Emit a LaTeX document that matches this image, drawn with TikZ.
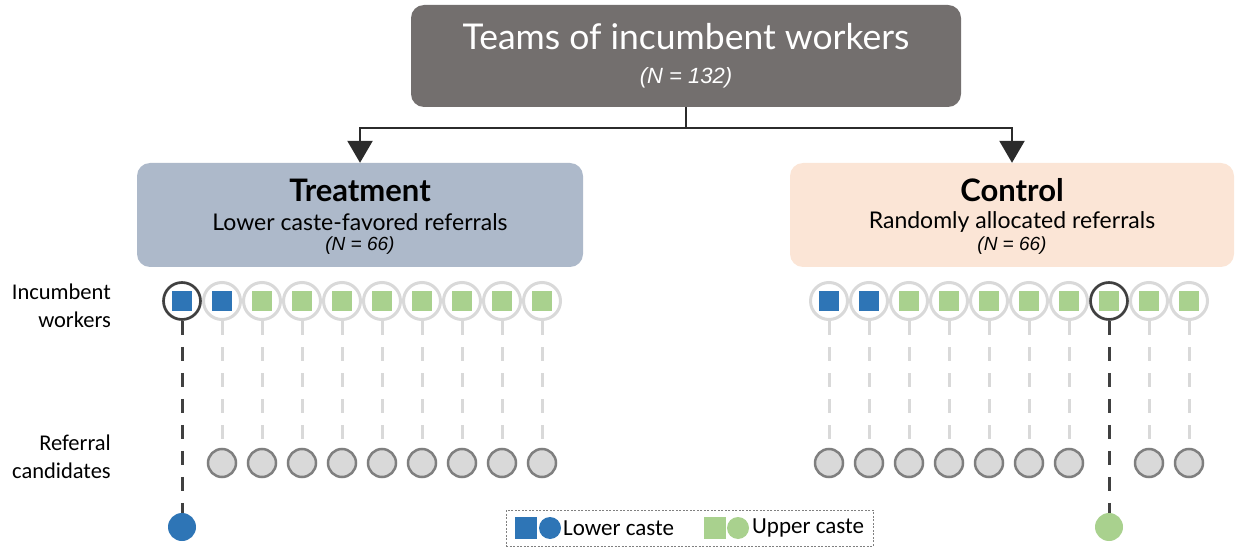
\documentclass[tikz,border=0pt]{standalone}
\usepackage{fontspec}
\setmainfont{Lato}
\newfontfamily\carl{Carlito}
\newfontfamily\arialf{Liberation Sans}
\usetikzlibrary{arrows.meta}
\definecolor{topgray}{HTML}{736F6E}
\definecolor{treatfill}{HTML}{ADB9CA}
\definecolor{ctrlfill}{HTML}{FBE5D6}
\definecolor{lowblue}{HTML}{2E75B6}
\definecolor{upgreen}{HTML}{A9D18E}
\definecolor{ringgray}{HTML}{D9D9D9}
\definecolor{refstroke}{HTML}{7F7F7F}
\definecolor{darkline}{HTML}{404040}
\definecolor{connc}{HTML}{2B2B2B}
\tikzset{
  bigbox/.style={rounded corners=13pt, draw=none, inner sep=0pt},
  conn/.style={draw=connc, line width=2.4pt},
  incirc/.style={circle, draw=ringgray, line width=3pt, minimum size=37pt, inner sep=0pt},
  selcirc/.style={circle, draw=darkline, line width=2.6pt, minimum size=37pt, inner sep=0pt},
  sq/.style={rectangle, minimum size=20pt, inner sep=0pt, draw=none},
  refcirc/.style={circle, draw=refstroke, fill=ringgray, line width=2.5pt, minimum size=28pt, inner sep=0pt},
  ghost/.style={draw=ringgray, line width=3pt, dash pattern=on 14pt off 12pt},
  chosen/.style={draw=darkline, line width=3pt, dash pattern=on 14pt off 12pt},
  pickcirc/.style={circle, minimum size=28pt, inner sep=0pt, draw=none},
  rowlabel/.style={align=right, anchor=east, font=\carl\fontsize{22.5}{28}\selectfont, inner sep=0pt},
  legtext/.style={anchor=west, font=\carl\fontsize{23}{26}\selectfont, inner sep=0pt},
  boxtitle/.style={font=\bfseries\fontsize{31}{36}\selectfont, inner sep=0pt},
  boxsub/.style={font=\fontsize{23}{28}\selectfont, inner sep=0pt},
  boxn/.style={font=\arialf\itshape\fontsize{19}{22}\selectfont, inner sep=0pt},
}
\begin{document}
\begin{tikzpicture}[x=1pt,y=-1pt]
\useasboundingbox (0,0) rectangle (1235,548);
% boxes
\node[bigbox, fill=topgray, minimum width=550pt, minimum height=102pt] (top) at (686,56) {};
\node[text=white, font=\fontsize{35.5}{42}\selectfont, inner sep=0pt] (toptitle) at (686,37) {Teams of incumbent workers};
\node[text=white, font=\arialf\itshape\fontsize{22}{26}\selectfont, inner sep=0pt] (topn) at (686,78) {(N = 132)};

\node[bigbox, fill=treatfill, minimum width=446pt, minimum height=104pt] (treat) at (360,215) {};
\node[boxtitle] (treattitle) at (360,190) {Treatment};
\node[boxsub] (treatsub) at (360,222) {Lower caste-favored referrals};
\node[boxn] (treatn) at (360,246) {(N = 66)};

\node[bigbox, fill=ctrlfill, minimum width=444pt, minimum height=104pt] (ctrl) at (1012,215) {};
\node[boxtitle] (ctrltitle) at (1012,190) {Control};
\node[boxsub] (ctrlsub) at (1012,222) {Randomly allocated referrals};
\node[boxn] (ctrln) at (1012,246) {(N = 66)};

% connectors
\coordinate (split) at (686,128);
\draw[conn] (top.south) -- (split);
\draw[conn, -{Triangle[width=25pt,length=22pt]}] (split) -| (treat.north);
\draw[conn, -{Triangle[width=25pt,length=22pt]}] (split) -| (ctrl.north);

% row labels
\node[rowlabel] (lblinc) at (111,306) {Incumbent\\workers};
\node[rowlabel] (lblref) at (111,457) {Referral\\candidates};

% treatment incumbents
\foreach \i in {1,...,10} {
  \pgfmathsetmacro{\xx}{142+40*\i}
  \node[incirc] (tI\i) at (\xx,301) {};
}
\foreach \i in {2,...,10} {
  \pgfmathsetmacro{\xx}{142+40*\i}
  \node[refcirc] (tR\i) at (\xx,463) {};
  \draw[ghost] (tI\i.south) -- (tR\i.north);
}
% control incumbents
\foreach \i in {1,...,10} {
  \pgfmathsetmacro{\xx}{789+40*\i}
  \node[incirc] (cI\i) at (\xx,301) {};
}
\foreach \i in {1,2,3,4,5,6,7,9,10} {
  \pgfmathsetmacro{\xx}{789+40*\i}
  \node[refcirc] (cR\i) at (\xx,463) {};
  \draw[ghost] (cI\i.south) -- (cR\i.north);
}
% highlighted
\node[selcirc] (tSel) at (tI1) {};
\node[selcirc] (cSel) at (cI8) {};
% squares
\foreach \i in {1,2} { \node[sq, fill=lowblue] (tS\i) at (tI\i) {}; }
\foreach \i in {3,...,10} { \node[sq, fill=upgreen] (tS\i) at (tI\i) {}; }
\foreach \i in {1,2} { \node[sq, fill=lowblue] (cS\i) at (cI\i) {}; }
\foreach \i in {3,...,10} { \node[sq, fill=upgreen] (cS\i) at (cI\i) {}; }

% chosen referrals
\node[pickcirc, fill=lowblue] (tPick) at (182,527) {};
\node[pickcirc, fill=upgreen] (cPick) at (1109,527) {};
\draw[chosen] (tSel.south) -- (tPick.north);
\draw[chosen] (cSel.south) -- (cPick.north);

% legend
\node[draw=gray, line width=0.6pt, dash pattern=on 2pt off 1.5pt, minimum width=367pt, minimum height=36pt, inner sep=0pt] (legend) at (689.5,528) {};
\node[sq, fill=lowblue, minimum size=22pt] (legsq1) at (526,528) {};
\node[circle, fill=lowblue, minimum size=22pt, inner sep=0pt] (legci1) at (550,528) {};
\node[legtext] (legt1) at (563,528) {Lower caste};
\node[sq, fill=upgreen, minimum size=22pt] (legsq2) at (715,528) {};
\node[circle, fill=upgreen, minimum size=22pt, inner sep=0pt] (legci2) at (738,528) {};
\node[legtext] (legt2) at (752,528) {Upper caste};
\end{tikzpicture}
\end{document}
